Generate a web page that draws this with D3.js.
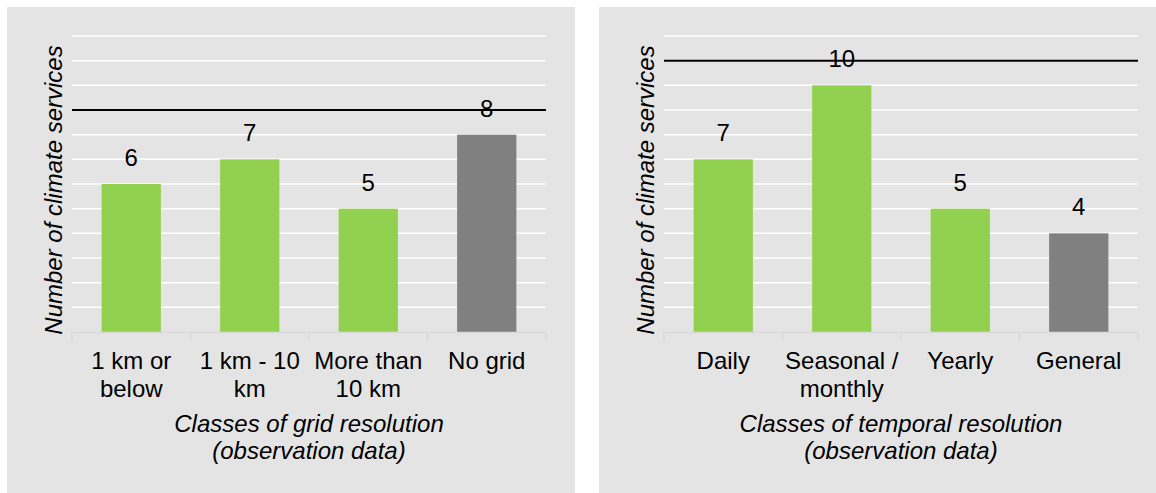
<!DOCTYPE html>
<html>
<head>
<meta charset="utf-8">
<script src="https://cdn.jsdelivr.net/npm/d3@7"></script>
<style>
  body { margin: 0; background: #fff; }
  svg text { font-family: "Liberation Sans", Arial, sans-serif; fill: #000; }
</style>
</head>
<body>
<div id="chart"></div>
<script>
// data
const gridCategories = ["1 km or below", "1 km - 10 km", "More than 10 km", "No grid"];
const gridTickLabels = [["1 km or", "below"], ["1 km - 10", "km"], ["More than", "10 km"], ["No grid"]];
const gridValues = [6, 7, 5, 8];
const gridTitle = ["Classes of grid resolution", "(observation data)"];
const gridRefLine = 9;

const temporalCategories = ["Daily", "Seasonal / monthly", "Yearly", "General"];
const temporalTickLabels = [["Daily"], ["Seasonal /", "monthly"], ["Yearly"], ["General"]];
const temporalValues = [7, 10, 5, 4];
const temporalTitle = ["Classes of temporal resolution", "(observation data)"];
const temporalRefLine = 11;

const yTitle = "Number of climate services";
const yMax = 12;

function main() {
    const W = 1156, H = 493;
    const fontSize = 24;

    const svg = d3.select("#chart")
        .append("svg")
        .attr("width", W)
        .attr("height", H);

    function drawPanel(left, right, plotLeft, plotRight, cats, tickLabels, values, title, refLine, otherCat) {
        const g = svg.append("g");

        // panel background
        g.append("rect")
            .attr("x", left)
            .attr("y", 7)
            .attr("width", right - left)
            .attr("height", H - 7)
            .attr("fill", "#e4e4e4");

        const x = d3.scaleBand()
            .domain(cats)
            .range([plotLeft, plotRight])
            .paddingInner(0.5)
            .paddingOuter(0.25);

        const y = d3.scaleLinear()
            .domain([0, yMax])
            .range([332, 36]);

        // gridlines
        g.append("g")
            .selectAll("line")
            .data(d3.range(1, yMax + 1))
            .enter()
            .append("line")
            .attr("x1", plotLeft)
            .attr("x2", plotRight)
            .attr("y1", d => y(d))
            .attr("y2", d => y(d))
            .attr("stroke", "#fff")
            .attr("stroke-width", 1.5);

        // bars
        g.append("g")
            .selectAll("rect")
            .data(values)
            .enter()
            .append("rect")
            .attr("x", (d, i) => x(cats[i]))
            .attr("y", d => y(d))
            .attr("width", x.bandwidth())
            .attr("height", d => y(0) - y(d))
            .attr("fill", (d, i) => cats[i] === otherCat ? "#808080" : "#92d050");

        // value labels
        g.append("g")
            .selectAll("text")
            .data(values)
            .enter()
            .append("text")
            .attr("x", (d, i) => x(cats[i]) + x.bandwidth() / 2)
            .attr("y", d => y(d) - 18)
            .attr("text-anchor", "middle")
            .style("font-size", fontSize + "px")
            .text(d => d);

        // black reference line
        g.append("line")
            .attr("x1", plotLeft)
            .attr("x2", plotRight)
            .attr("y1", y(refLine))
            .attr("y2", y(refLine))
            .attr("stroke", "#000")
            .attr("stroke-width", 2);

        // x axis line + ticks at category boundaries
        const bounds = d3.range(cats.length + 1).map(i => plotLeft + i * x.step());
        g.append("line")
            .attr("x1", plotLeft)
            .attr("x2", plotRight)
            .attr("y1", y(0) + 0.5)
            .attr("y2", y(0) + 0.5)
            .attr("stroke", "#d9d9d9")
            .attr("stroke-width", 1.5);
        g.append("g")
            .selectAll("line")
            .data(bounds)
            .enter()
            .append("line")
            .attr("x1", d => d)
            .attr("x2", d => d)
            .attr("y1", y(0))
            .attr("y2", y(0) + 8)
            .attr("stroke", "#d9d9d9")
            .attr("stroke-width", 1.5);

        // category labels
        const lab = g.append("g")
            .selectAll("text")
            .data(tickLabels)
            .enter()
            .append("text")
            .attr("text-anchor", "middle")
            .style("font-size", fontSize + "px");
        lab.each(function(lines, i) {
            d3.select(this).selectAll("tspan")
                .data(lines)
                .enter()
                .append("tspan")
                .attr("x", x(cats[i]) + x.bandwidth() / 2)
                .attr("y", (l, j) => 369 + j * 28)
                .text(l => l);
        });

        // x title
        const cx = (plotLeft + plotRight) / 2;
        g.append("text")
            .attr("text-anchor", "middle")
            .style("font-size", fontSize + "px")
            .style("font-style", "italic")
            .selectAll("tspan")
            .data(title)
            .enter()
            .append("tspan")
            .attr("x", cx)
            .attr("y", (l, j) => 432 + j * 27)
            .text(l => l);

        // y title
        g.append("text")
            .attr("transform", `translate(${plotLeft - 10}, 190) rotate(-90)`)
            .attr("text-anchor", "middle")
            .style("font-size", fontSize + "px")
            .style("font-style", "italic")
            .text(yTitle);
    }

    drawPanel(7, 575, 72, 546, gridCategories, gridTickLabels, gridValues, gridTitle, gridRefLine, "No grid");
    drawPanel(599, 1156, 664, 1138, temporalCategories, temporalTickLabels, temporalValues, temporalTitle, temporalRefLine, "General");
}

main()
</script>
</body>
</html>
